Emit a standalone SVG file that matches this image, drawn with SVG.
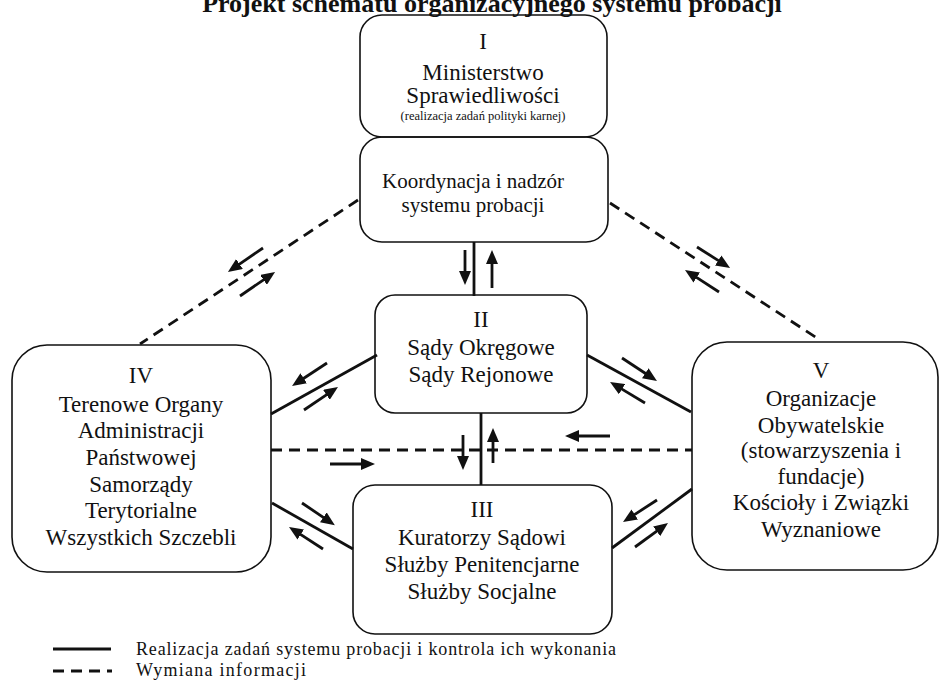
<svg xmlns="http://www.w3.org/2000/svg" width="940" height="680" viewBox="0 0 940 680">
<style>
  .box { fill: none; stroke: #111; stroke-width: 1.6; }
  .t { font-family: "Liberation Serif", "Times New Roman", serif; font-size: 23px; fill: #111; text-anchor: middle; }
  .s { font-size: 21px; }
  .xs { font-size: 12.5px; }
  .title { font-family: "Liberation Serif", "Times New Roman", serif; font-size: 26px; font-weight: bold; fill: #111; text-anchor: middle; }
  .leg { font-family: "Liberation Serif", "Times New Roman", serif; font-size: 18px; fill: #111; }
  .solid { stroke: #111; stroke-width: 2.8; fill: none; }
  .dash { stroke: #111; stroke-width: 2.8; fill: none; stroke-dasharray: 11 7; }
  .arr { stroke: #111; stroke-width: 2.8; fill: none; marker-end: url(#ah); }
</style>
<defs>
  <marker id="ah" viewBox="0 0 14 12" refX="4" refY="6" markerWidth="14" markerHeight="12" markerUnits="userSpaceOnUse" orient="auto">
    <path d="M0,0 L14,6 L0,12 z" fill="#111"/>
  </marker>
</defs>
<rect width="940" height="680" fill="#fff"/>
<text class="title" x="492" y="12">Projekt schematu organizacyjnego systemu probacji</text>

<g id="connectors">
  <line class="dash" x1="358" y1="200" x2="140" y2="344"/>
  <line class="dash" x1="610" y1="203" x2="820" y2="340"/>
  <line class="solid" x1="474" y1="242" x2="474" y2="296"/>
  <line class="solid" x1="377" y1="355" x2="271" y2="414"/>
  <line class="solid" x1="587" y1="355" x2="691" y2="412"/>
  <line class="solid" x1="481" y1="413" x2="481" y2="485"/>
  <line class="dash" x1="271" y1="450" x2="692" y2="450"/>
  <line class="solid" x1="272" y1="503" x2="353" y2="549"/>
  <line class="solid" x1="612" y1="548" x2="692" y2="489"/>
  <line class="arr" x1="263" y1="248" x2="236.2" y2="266.3"/>
  <line class="arr" x1="240" y1="296" x2="266.8" y2="277.6"/>
  <line class="arr" x1="697" y1="247" x2="721.6" y2="262.6"/>
  <line class="arr" x1="719" y1="292" x2="693.4" y2="275.4"/>
  <line class="arr" x1="465" y1="250" x2="465" y2="275"/>
  <line class="arr" x1="492" y1="288" x2="492" y2="260"/>
  <line class="arr" x1="327" y1="363" x2="300.4" y2="380.5"/>
  <line class="arr" x1="304" y1="410" x2="329.7" y2="392.6"/>
  <line class="arr" x1="622" y1="358" x2="648.6" y2="375.5"/>
  <line class="arr" x1="645" y1="403" x2="618.6" y2="387.1"/>
  <line class="arr" x1="330" y1="464" x2="365" y2="464"/>
  <line class="arr" x1="610" y1="436" x2="575" y2="436"/>
  <line class="arr" x1="463" y1="435" x2="463" y2="460"/>
  <line class="arr" x1="493" y1="463" x2="493" y2="438"/>
  <line class="arr" x1="302" y1="503" x2="326.6" y2="519.6"/>
  <line class="arr" x1="323" y1="549" x2="297.4" y2="532.4"/>
  <line class="arr" x1="657" y1="500" x2="631.4" y2="516.6"/>
  <line class="arr" x1="635" y1="547" x2="659.9" y2="528.9"/>
</g>

<g id="n1">
  <rect class="box" x="360" y="15" width="247" height="122" rx="22"/>
  <text class="t" x="483" y="49">I</text>
  <text class="t" x="483" y="80">Ministerstwo</text>
  <text class="t" x="483" y="103">Sprawiedliwości</text>
  <text class="t xs" x="483" y="120">(realizacja zadań polityki karnej)</text>
</g>
<g id="n1b">
  <rect class="box" x="360" y="137" width="248" height="105" rx="22"/>
  <text class="t s" x="473" y="188">Koordynacja i nadzór</text>
  <text class="t s" x="473" y="212">systemu probacji</text>
</g>
<g id="n2">
  <rect class="box" x="375" y="295" width="212" height="118" rx="20"/>
  <text class="t" x="481" y="327">II</text>
  <text class="t" x="481" y="355">Sądy Okręgowe</text>
  <text class="t" x="481" y="382">Sądy Rejonowe</text>
</g>
<g id="n3">
  <rect class="box" x="353" y="485" width="259" height="149" rx="22"/>
  <text class="t" x="482" y="517">III</text>
  <text class="t" x="482" y="545">Kuratorzy Sądowi</text>
  <text class="t" x="482" y="572">Służby Penitencjarne</text>
  <text class="t" x="482" y="599">Służby Socjalne</text>
</g>
<g id="n4">
  <rect class="box" x="12" y="345" width="259" height="227" rx="35"/>
  <text class="t" x="141" y="383">IV</text>
  <text class="t" x="141" y="412">Terenowe Organy</text>
  <text class="t" x="141" y="438">Administracji</text>
  <text class="t" x="141" y="465">Państwowej</text>
  <text class="t" x="141" y="492">Samorządy</text>
  <text class="t" x="141" y="518">Terytorialne</text>
  <text class="t" x="141" y="545">Wszystkich Szczebli</text>
</g>
<g id="n5">
  <rect class="box" x="692" y="342" width="246" height="228" rx="35"/>
  <text class="t" x="821" y="378">V</text>
  <text class="t" x="821" y="406">Organizacje</text>
  <text class="t" x="821" y="433">Obywatelskie</text>
  <text class="t" x="821" y="458">(stowarzyszenia i</text>
  <text class="t" x="821" y="484">fundacje)</text>
  <text class="t" x="821" y="510">Kościoły i Związki</text>
  <text class="t" x="821" y="537">Wyznaniowe</text>
</g>

<g id="legend">
  <line class="solid" x1="53" y1="649" x2="111" y2="649"/>
  <line class="dash" x1="53" y1="671" x2="112" y2="671"/>
  <text class="leg" x="136" y="655" textLength="480" lengthAdjust="spacing">Realizacja zadań systemu probacji i kontrola ich wykonania</text>
  <text class="leg" x="136" y="676" textLength="170" lengthAdjust="spacing">Wymiana informacji</text>
</g>
</svg>
